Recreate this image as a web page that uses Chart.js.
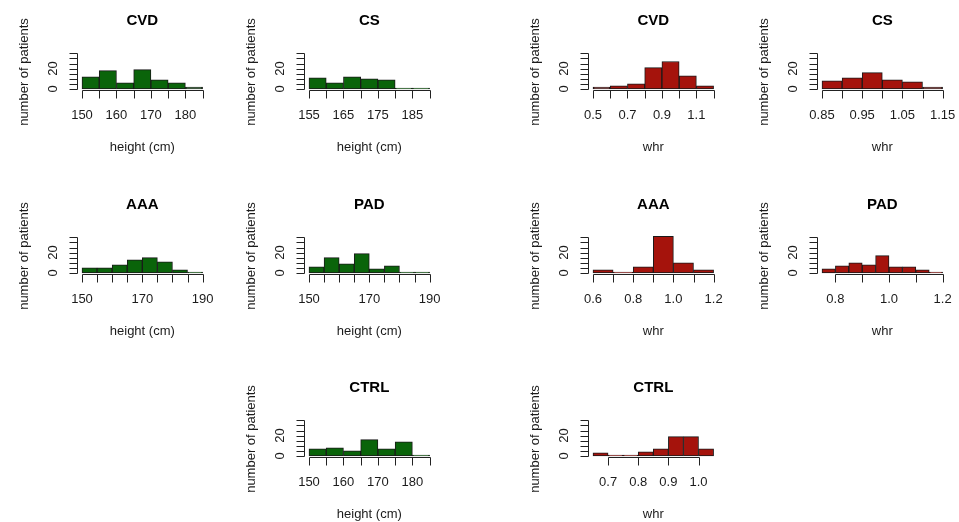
<!DOCTYPE html>
<html>
<head>
<meta charset="utf-8">
<script src="https://cdn.jsdelivr.net/npm/chart.js@4.4.1/dist/chart.umd.min.js"></script>
<style>
  html, body { margin: 0; padding: 0; background: #fff; overflow: hidden; }
  #wrap { position: relative; width: 959px; height: 522px; }
  canvas { position: absolute; }
</style>
</head>
<body>
<div id="wrap"></div>
<script>
// ---- data ----
const yTicks = [0, 5, 10, 15, 20, 25, 30, 35];
const yLabels = [0, 20];

const cvdHeightBreaks = [150, 155, 160, 165, 170, 175, 180, 185];
const cvdHeightCounts = [12, 18, 6, 19, 9, 6, 2];
const cvdHeightLabels = ['150', '160', '170', '180'];

const csHeightBreaks = [155, 160, 165, 170, 175, 180, 185, 190];
const csHeightCounts = [11, 6, 12, 10, 9, 1, 1];
const csHeightLabels = ['155', '165', '175', '185'];

const cvdWhrBreaks = [0.5, 0.6, 0.7, 0.8, 0.9, 1.0, 1.1, 1.2];
const cvdWhrCounts = [2, 3, 5, 21, 27, 13, 3];
const cvdWhrLabels = ['0.5', '0.7', '0.9', '1.1'];

const csWhrBreaks = [0.85, 0.9, 0.95, 1.0, 1.05, 1.1, 1.15];
const csWhrCounts = [8, 11, 16, 9, 7, 2];
const csWhrLabels = ['0.85', '0.95', '1.05', '1.15'];

const aaaHeightBreaks = [150, 155, 160, 165, 170, 175, 180, 185, 190];
const aaaHeightCounts = [5, 5, 8, 13, 15, 11, 3, 1];
const aaaHeightLabels = ['150', '170', '190'];

const padHeightBreaks = [150, 155, 160, 165, 170, 175, 180, 185, 190];
const padHeightCounts = [6, 15, 9, 19, 4, 7, 1, 1];
const padHeightLabels = ['150', '170', '190'];

const aaaWhrBreaks = [0.6, 0.7, 0.8, 0.9, 1.0, 1.1, 1.2];
const aaaWhrCounts = [3, 1, 6, 36, 10, 3];
const aaaWhrLabels = ['0.6', '0.8', '1.0', '1.2'];

const padWhrBreaks = [0.75, 0.8, 0.85, 0.9, 0.95, 1.0, 1.05, 1.1, 1.15, 1.2];
const padWhrCounts = [4, 7, 10, 8, 17, 6, 6, 3, 1];
const padWhrTicks = [0.8, 0.9, 1.0, 1.1, 1.2];
const padWhrLabels = ['0.8', '1.0', '1.2'];

const ctrlHeightBreaks = [150, 155, 160, 165, 170, 175, 180, 185];
const ctrlHeightCounts = [7, 8, 5, 16, 7, 14, 1];
const ctrlHeightLabels = ['150', '160', '170', '180'];

const ctrlWhrBreaks = [0.65, 0.7, 0.75, 0.8, 0.85, 0.9, 0.95, 1.0, 1.05];
const ctrlWhrCounts = [3, 1, 1, 4, 7, 19, 19, 7];
const ctrlWhrTicks = [0.7, 0.8, 0.9, 1.0];
const ctrlWhrLabels = ['0.7', '0.8', '0.9', '1.0'];

const GREEN = '#0a640a';
const RED = '#a5130c';

const panels = [
  { title: 'CVD', breaks: cvdHeightBreaks, counts: cvdHeightCounts, ticks: cvdHeightBreaks, labels: cvdHeightLabels, xlab: 'height (cm)', color: GREEN, col: 0, row: 0 },
  { title: 'CS', breaks: csHeightBreaks, counts: csHeightCounts, ticks: csHeightBreaks, labels: csHeightLabels, xlab: 'height (cm)', color: GREEN, col: 1, row: 0 },
  { title: 'CVD', breaks: cvdWhrBreaks, counts: cvdWhrCounts, ticks: cvdWhrBreaks, labels: cvdWhrLabels, xlab: 'whr', color: RED, col: 2, row: 0 },
  { title: 'CS', breaks: csWhrBreaks, counts: csWhrCounts, ticks: csWhrBreaks, labels: csWhrLabels, xlab: 'whr', color: RED, col: 3, row: 0 },
  { title: 'AAA', breaks: aaaHeightBreaks, counts: aaaHeightCounts, ticks: aaaHeightBreaks, labels: aaaHeightLabels, xlab: 'height (cm)', color: GREEN, col: 0, row: 1 },
  { title: 'PAD', breaks: padHeightBreaks, counts: padHeightCounts, ticks: padHeightBreaks, labels: padHeightLabels, xlab: 'height (cm)', color: GREEN, col: 1, row: 1 },
  { title: 'AAA', breaks: aaaWhrBreaks, counts: aaaWhrCounts, ticks: aaaWhrBreaks, labels: aaaWhrLabels, xlab: 'whr', color: RED, col: 2, row: 1 },
  { title: 'PAD', breaks: padWhrBreaks, counts: padWhrCounts, ticks: padWhrTicks, labels: padWhrLabels, xlab: 'whr', color: RED, col: 3, row: 1 },
  { title: 'CTRL', breaks: ctrlHeightBreaks, counts: ctrlHeightCounts, ticks: ctrlHeightBreaks, labels: ctrlHeightLabels, xlab: 'height (cm)', color: GREEN, col: 1, row: 2 },
  { title: 'CTRL', breaks: ctrlWhrBreaks, counts: ctrlWhrCounts, ticks: ctrlWhrTicks, labels: ctrlWhrLabels, xlab: 'whr', color: RED, col: 2, row: 2 }
];

// ---- layout (plot regions, in page pixels) ----
const colLeft = [81.7, 309.3, 593.3, 821.7];
const rowBase = [89, 272.7, 456];
const plotW = 120.6;
const yMax = 40;
const pxPerUnit = 1.02;
const cw = 215, ch = 175, padL = 80, baseInCanvas = 89;

const FONT = '"Liberation Sans", Arial, Helvetica, sans-serif';
const INK = '#1b1b1b';

function line(ctx, x1, y1, x2, y2) {
  ctx.beginPath();
  ctx.moveTo(x1, y1);
  ctx.lineTo(x2, y2);
  ctx.stroke();
}

function drawAxes(chart, p) {
  const ctx = chart.ctx;
  const a = chart.chartArea;
  const xs = chart.scales.x, ys = chart.scales.y;
  const base = ys.getPixelForValue(0);
  const cx = (a.left + a.right) / 2;
  ctx.save();
  ctx.strokeStyle = '#222';
  ctx.lineWidth = 1;
  ctx.fillStyle = INK;

  // y axis, R style: detached to the left, ticks outwards
  const ax = Math.round(a.left - 5) + 0.5;
  const yt = yTicks.map(v => Math.round(ys.getPixelForValue(v)) + 0.5);
  line(ctx, ax, yt[0], ax, yt[yt.length - 1]);
  yt.forEach(y => line(ctx, ax - 8, y, ax, y));
  ctx.font = '13px ' + FONT;
  ctx.textAlign = 'center';
  ctx.textBaseline = 'middle';
  yLabels.forEach(v => {
    ctx.save();
    ctx.translate(ax - 24, ys.getPixelForValue(v));
    ctx.rotate(-Math.PI / 2);
    ctx.fillText(String(v), 0, 0);
    ctx.restore();
  });

  // x axis, from first to last tick only
  const xb = Math.round(base + 1) + 0.5;
  const xt = p.ticks.map(v => Math.round(xs.getPixelForValue(v)) + 0.5);
  line(ctx, xt[0], xb, xt[xt.length - 1], xb);
  xt.forEach(x => line(ctx, x, xb, x, xb + 8));
  p.labels.forEach(s => {
    ctx.fillText(s, xs.getPixelForValue(parseFloat(s)), base + 26);
  });

  // axis titles
  ctx.fillText(p.xlab, cx, base + 58);
  ctx.save();
  ctx.translate(ax - 53, base - 17);
  ctx.rotate(-Math.PI / 2);
  ctx.fillText('number of patients', 0, 0);
  ctx.restore();

  // panel title
  ctx.font = 'bold 15px ' + FONT;
  ctx.fillStyle = '#000';
  ctx.fillText(p.title, cx, base - 68);
  ctx.restore();
}

const wrap = document.getElementById('wrap');

panels.forEach(p => {
  const cv = document.createElement('canvas');
  cv.width = cw;
  cv.height = ch;
  cv.style.left = (colLeft[p.col] - padL) + 'px';
  cv.style.top = (rowBase[p.row] - baseInCanvas) + 'px';
  cv.style.width = cw + 'px';
  cv.style.height = ch + 'px';
  wrap.appendChild(cv);

  const pts = p.counts.map((c, i) => ({ x: (p.breaks[i] + p.breaks[i + 1]) / 2, y: c }));

  new Chart(cv, {
    type: 'bar',
    data: {
      datasets: [{
        data: pts,
        backgroundColor: p.color,
        borderColor: '#1a1a1a',
        borderWidth: 1,
        borderSkipped: false,
        barPercentage: 1,
        categoryPercentage: 1,
        clip: false
      }]
    },
    options: {
      responsive: false,
      animation: false,
      devicePixelRatio: 1,
      layout: {
        padding: {
          left: padL,
          right: cw - padL - plotW,
          top: baseInCanvas - yMax * pxPerUnit,
          bottom: ch - baseInCanvas
        }
      },
      plugins: { legend: { display: false }, tooltip: { enabled: false } },
      scales: {
        x: {
          type: 'linear',
          display: false,
          offset: false,
          min: p.breaks[0],
          max: p.breaks[p.breaks.length - 1]
        },
        y: { display: false, min: 0, max: yMax }
      }
    },
    plugins: [{ id: 'rAxes', afterDraw(chart) { drawAxes(chart, p); } }]
  });
});
</script>
</body>
</html>
